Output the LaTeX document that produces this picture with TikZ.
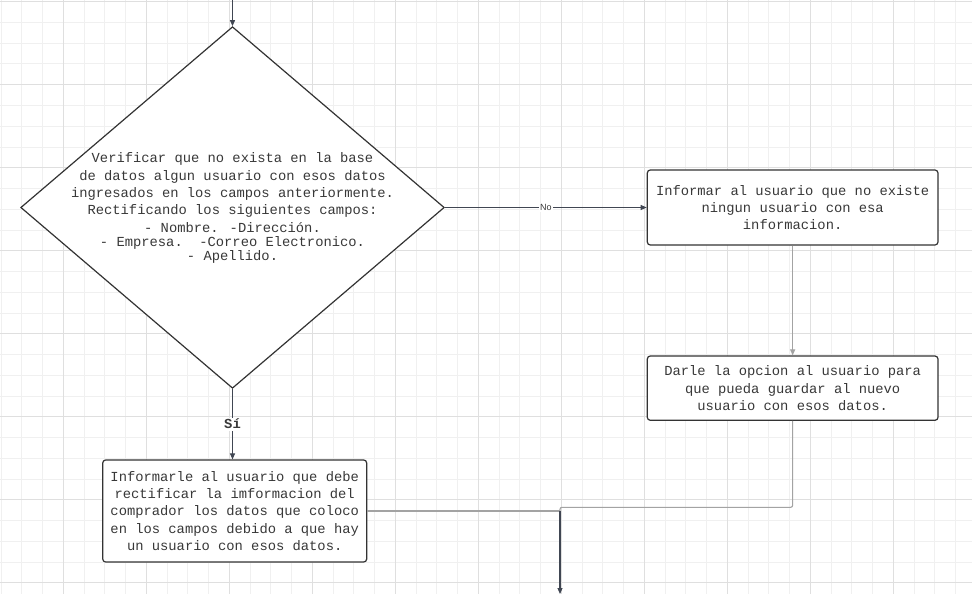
\documentclass[tikz,border=0pt]{standalone}
\usepackage{fontspec}
\newfontfamily\monof{Liberation Mono}
\newfontfamily\sansf{Liberation Sans}
\usetikzlibrary{shapes.geometric,arrows.meta}
\definecolor{txtcol}{HTML}{383838}
\definecolor{edgecol}{HTML}{333333}
\definecolor{conncol}{HTML}{404652}
\definecolor{lightcol}{HTML}{A3A3A3}
\definecolor{gridminor}{HTML}{F0F0F0}
\definecolor{gridmajor}{HTML}{DFDFDF}
\begin{document}
\begin{tikzpicture}[x=1pt,y=-1pt,
  monotext/.style={font=\monof\fontsize{13.8}{17.4}\selectfont, text=txtcol, align=center},
  box/.style={monotext, draw=edgecol, line width=1.2pt, rounded corners=3pt, fill=white, inner sep=0pt},
  decision/.style={shape=diamond, draw=edgecol, line width=1.2pt, fill=white, inner sep=0pt,
                   minimum width=423.6pt, minimum height=361.6pt},
  darrow/.style={draw=conncol, line width=1.1pt, -{Triangle[length=6pt,width=5pt]}},
  larrow/.style={draw=lightcol, line width=1.1pt, -{Triangle[length=6pt,width=5pt]}},
  lline/.style={draw=lightcol, line width=1.1pt},
  nolabel/.style={fill=white, inner sep=1pt, text=txtcol, font=\sansf\fontsize{9}{10}\selectfont},
  silabel/.style={fill=white, inner sep=1.5pt, text=txtcol, font=\monof\bfseries\fontsize{13.8}{15}\selectfont},
  minorline/.style={draw=gridminor, line width=0.9pt},
  majorline/.style={draw=gridmajor, line width=1.2pt}
]
\useasboundingbox (0,0) rectangle (972,594);
\fill[white] (0,0) rectangle (972,594);
% grid
\foreach \i in {0,...,46} \draw[minorline] ({1.05+20.75*\i},0) -- ({1.05+20.75*\i},594);
\foreach \i in {0,...,28} \draw[minorline] (0,{1.7+20.75*\i}) -- (972,{1.7+20.75*\i});
\foreach \i in {0,...,10} \draw[majorline] ({63.3+83*\i},0) -- ({63.3+83*\i},594);
\foreach \i in {0,...,7} \draw[majorline] (0,{1.7+83*\i}) -- (972,{1.7+83*\i});

% nodes
\node[decision] (d) at (232.5,207.5) {};
\node[monotext] (dt) at (232.5,208) {Verificar que no exista en la base\\
de datos algun usuario con esos datos\\
ingresados en los campos anteriormente.\\
Rectificando los siguientes campos:\\
- Nombre. -Dirección.\\[-3.4pt]
- Empresa.\ \ -Correo Electronico.\\[-3.4pt]
- Apellido.};
\node[box, minimum width=290.7pt, minimum height=75pt] (b1) at (792.65,207.5)
  {Informar al usuario que no existe\\ ningun usuario con esa\\ informacion.};
\node[box, minimum width=290.7pt, minimum height=64.3pt] (b2) at (792.65,388.15)
  {Darle la opcion al usuario para\\ que pueda guardar al nuevo\\ usuario con esos datos.};
\node[box, minimum width=264pt, minimum height=102pt] (b3) at (234.7,511)
  {Informarle al usuario que debe\\ rectificar la imformacion del\\ comprador los datos que coloco\\ en los campos debido a que hay\\ un usuario con esos datos.};

\coordinate (in) at (232.5,0);
\coordinate (j) at (560,511);
\coordinate (k) at (560,507.3);
\coordinate (out) at (560,594);

% connectors
\draw[darrow] (in) -- (d.north);
\draw[darrow] (d.east) -- node[nolabel] {No} (b1.west);
\draw[larrow] (b1.south) -- (b2.north);
\draw[darrow] (d.south) -- node[silabel] {Sí} (d.south |- b3.north);
\draw[lline] (b3.east) -- (j);
\draw[lline, rounded corners=2pt] (b2.south) |- (k) -- (j);
\draw[darrow] (j) -- (out);
\end{tikzpicture}
\end{document}
